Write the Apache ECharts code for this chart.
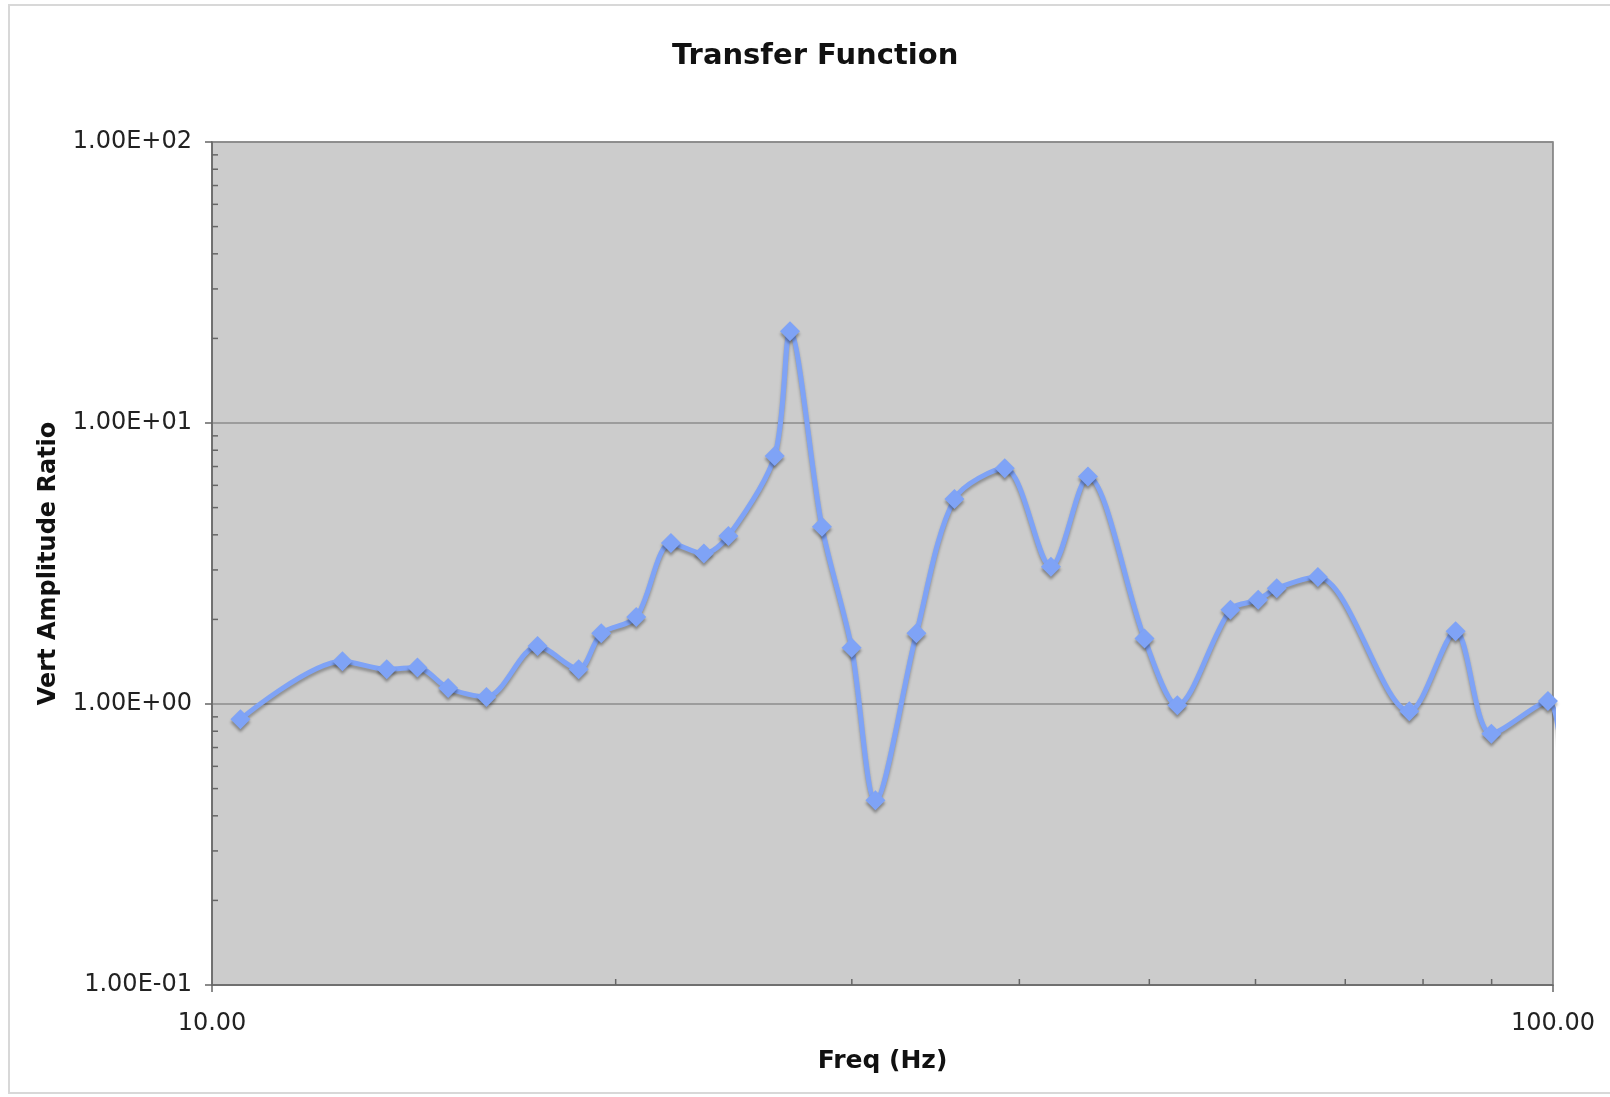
<!DOCTYPE html>
<html>
<head>
<meta charset="utf-8">
<script src="https://cdn.jsdelivr.net/npm/echarts@6/dist/echarts.min.js"></script>
<style>
html,body{margin:0;padding:0;background:#fff;}
#chart{width:1610px;height:1097px;}
</style>
</head>
<body>
<div id="chart"></div>
<script>
// Frequency (Hz) of each measured point
const freq = [10.50, 12.51, 13.50, 14.23, 15.00, 16.02, 17.49, 18.77, 19.51, 20.72,
              21.99, 23.27, 24.27, 26.28, 26.98, 28.50, 29.99, 31.24, 33.52, 35.78,
              39.01, 42.23, 45.00, 49.59, 52.46, 57.47, 60.28, 62.23, 66.78, 78.14,
              84.60, 89.96, 99.13];
// Vertical amplitude ratio at each frequency
const ratio = [0.882, 1.42, 1.33, 1.35, 1.14, 1.06, 1.61, 1.33, 1.785, 2.04,
               3.74, 3.43, 3.96, 7.63, 21.2, 4.27, 1.586, 0.454, 1.785, 5.36,
               6.90, 3.08, 6.45, 1.71, 0.99, 2.165, 2.35, 2.58, 2.83, 0.943,
               1.815, 0.784, 1.025];
// Curve continues past the right edge of the plot (no marker drawn there)
const tailFreq = [101.8];
const tailRatio = [0.5];
// Minor tick values
const yMinorTicks = [0.2,0.3,0.4,0.5,0.6,0.7,0.8,0.9,2,3,4,5,6,7,8,9,20,30,40,50,60,70,80,90];
const xMinorTicks = [20,30,40,50,60,70,80,90];

const chart = echarts.init(document.getElementById('chart'), null, {renderer:'canvas'});

const lineData = freq.map((f,i)=>[f, ratio[i]]);
tailFreq.forEach((f,i)=>lineData.push({value:[f, tailRatio[i]], symbol:'none'}));

function sci(v){
  const e = Math.round(Math.log10(v));
  const m = v / Math.pow(10, e);
  return m.toFixed(2) + 'E' + (e < 0 ? '-' : '+') + String(Math.abs(e)).padStart(2,'0');
}

const font = '"DejaVu Sans", Verdana, sans-serif';

chart.setOption({
  backgroundColor:'#ffffff',
  animation:false,
  title:{
    text:'Transfer Function',
    left:667,
    top:37,
    textStyle:{fontFamily:font, fontSize:29, fontWeight:'bold', color:'#111'}
  },
  graphic:[{
    type:'rect', silent:true, z:-10,
    shape:{x:9, y:5, width:1700, height:1088},
    style:{fill:null, stroke:'#d8d8d8', lineWidth:2}
  }],
  grid:{
    left:212, right:57, top:142, bottom:112,
    show:true, backgroundColor:'#cccccc', borderColor:'#777777', borderWidth:1.5
  },
  xAxis:{
    type:'log', logBase:10, min:10, max:100,
    name:'Freq (Hz)', nameLocation:'middle', nameGap:64,
    nameTextStyle:{fontFamily:font, fontSize:25, fontWeight:'bold', color:'#111'},
    axisLine:{show:true, lineStyle:{color:'#666', width:1.5}},
    axisTick:{show:true, inside:false, length:7, lineStyle:{color:'#666', width:1.5}},
    axisLabel:{fontFamily:font, fontSize:24, color:'#222', margin:27, formatter:v=>v.toFixed(2)},
    splitLine:{show:false}
  },
  yAxis:{
    type:'log', logBase:10, min:0.1, max:100,
    name:'Vert Amplitude Ratio', nameLocation:'middle', nameGap:151, nameRotate:90,
    nameTextStyle:{fontFamily:font, fontSize:24, fontWeight:'bold', color:'#111'},
    axisLine:{show:true, lineStyle:{color:'#666', width:1.5}},
    axisTick:{show:true, inside:false, length:7, lineStyle:{color:'#666', width:1.5}},
    axisLabel:{fontFamily:font, fontSize:24, color:'#222', margin:20, formatter:sci},
    splitLine:{show:true, lineStyle:{color:'#8c8c8c', width:1.5}}
  },
  series:[
    {
      type:'custom', silent:true, z:1,
      data:yMinorTicks.map(v=>[10, v]),
      encode:{x:0, y:1},
      renderItem:function(params, api){
        const p = api.coord([api.value(0), api.value(1)]);
        return {type:'line', shape:{x1:p[0], y1:p[1], x2:p[0]+6, y2:p[1]},
                style:{stroke:'#666', lineWidth:1.5}};
      }
    },
    {
      type:'custom', silent:true, z:1,
      data:xMinorTicks.map(v=>[v, 0.1]),
      encode:{x:0, y:1},
      renderItem:function(params, api){
        const p = api.coord([api.value(0), api.value(1)]);
        return {type:'line', shape:{x1:p[0], y1:p[1], x2:p[0], y2:p[1]-6},
                style:{stroke:'#666', lineWidth:1.5}};
      }
    },
    {
      type:'line', z:3,
      data:lineData,
      smooth:0.3,
      clip:false,
      symbol:'diamond', symbolSize:20,
      itemStyle:{color:'#7fa3f6', shadowColor:'rgba(0,0,0,0.35)', shadowBlur:3, shadowOffsetY:3},
      lineStyle:{color:'#7fa3f6', width:5, shadowColor:'rgba(0,0,0,0.3)', shadowBlur:3, shadowOffsetY:3}
    }
  ]
});
</script>
</body>
</html>
